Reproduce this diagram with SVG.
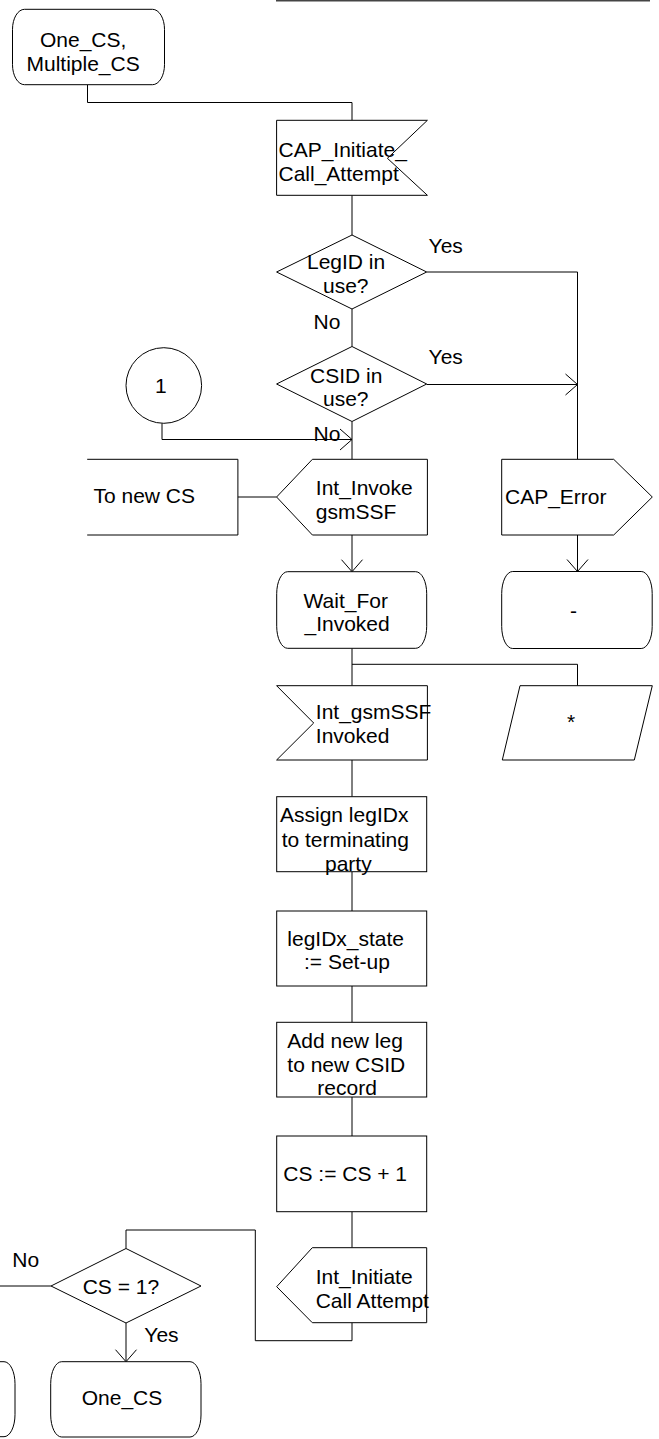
<svg xmlns="http://www.w3.org/2000/svg" width="659" height="1439" viewBox="0 0 659 1439">
<style>
.s{fill:#fff;stroke:#000;stroke-width:1}
.c{fill:none;stroke:#000;stroke-width:1}
text{font-family:"Liberation Sans",Arial,sans-serif;font-size:21px;fill:#000}
</style>
<defs>
<marker id="arr" markerUnits="userSpaceOnUse" markerWidth="16" markerHeight="24" viewBox="-13 -12 15 24" refX="0" refY="0" orient="auto" overflow="visible">
<path d="M-12,-10.5 L0,0 L-12,10.5" fill="none" stroke="#000" stroke-width="1"/>
</marker>
</defs>
<rect width="659" height="1439" fill="#fff"/>
<line x1="276" y1="0.8" x2="650" y2="0.8" stroke="#444" stroke-width="1.6"/>

<g id="connectors">
<path class="c" d="M87.5,84.7 V102.5 H352 V120.3"/>
<path class="c" d="M352,195.3 V235"/>
<path class="c" d="M352,309 V346.5"/>
<path class="c" d="M426.7,272 H577.5 V459.3"/>
<path class="c" d="M426.7,384.5 H577.5" marker-end="url(#arr)"/>
<path class="c" d="M352,421.5 V459.3"/>
<path class="c" d="M162,423.3 V439.5 H352" marker-end="url(#arr)"/>
<path class="c" d="M237.9,497 H276.6"/>
<path class="c" d="M352,535 V571.7" marker-end="url(#arr)"/>
<path class="c" d="M577.5,535 V571.5" marker-end="url(#arr)"/>
<path class="c" d="M352,648.3 V685.7"/>
<path class="c" d="M352,664.3 H577.5 V685.7"/>
<path class="c" d="M352,760 V796.7"/>
<path class="c" d="M352,871.7 V911"/>
<path class="c" d="M352,986 V1022.3"/>
<path class="c" d="M352,1097 V1136"/>
<path class="c" d="M352,1211.7 V1247.7"/>
<path class="c" d="M352,1322.7 V1340.7 H255.3 V1230 H126 V1248.5"/>
<path class="c" d="M51,1286 H0"/>
<path class="c" d="M126,1323 V1361.7" marker-end="url(#arr)"/>
</g>

<g id="state_start">
<rect class="s" x="12.5" y="9.3" width="152" height="75.4" rx="12" ry="20"/>
<text x="40" y="47">One_CS,</text>
<text x="26.5" y="70.5">Multiple_CS</text>
</g>

<g id="input_cap_initiate">
<polygon class="s" points="276.6,120.3 427.4,120.3 387.4,158.3 427.4,195.3 276.6,195.3"/>
<text x="278.5" y="157">CAP_Initiate_</text>
<text x="278.5" y="180.5">Call_Attempt</text>
</g>

<g id="decision_legid">
<polygon class="s" points="276.6,272 352,235 426.7,272 352,309"/>
<text x="307" y="269.3">LegID in</text>
<text x="323" y="292.7">use?</text>
<text x="428.6" y="253.3">Yes</text>
<text x="313.5" y="329.3">No</text>
</g>

<g id="decision_csid">
<polygon class="s" points="276.6,384 352,346.5 426.7,384 352,421.5"/>
<text x="310" y="382.7">CSID in</text>
<text x="323" y="406.2">use?</text>
<text x="428.6" y="364.3">Yes</text>
<text x="313.5" y="440.7">No</text>
</g>

<g id="connector_1">
<circle class="s" cx="163.8" cy="385.5" r="37.8"/>
<text x="155" y="392.7">1</text>
</g>

<g id="comment_to_new_cs">
<path class="c" d="M87.2,459.3 H237.9 V535 H87.2"/>
<text x="93.5" y="503.3">To new CS</text>
</g>

<g id="output_int_invoke">
<polygon class="s" points="312.4,459.3 427.4,459.3 427.4,535 312.4,535 276.6,497"/>
<text x="315.8" y="495">Int_Invoke</text>
<text x="315.8" y="518.5">gsmSSF</text>
</g>

<g id="output_cap_error">
<polygon class="s" points="501.7,459.3 613.7,459.3 652.3,497 613.7,535 501.7,535"/>
<text x="505" y="504">CAP_Error</text>
</g>

<g id="state_wait_for_invoked">
<rect class="s" x="276.7" y="571.7" width="150" height="76.6" rx="11" ry="22"/>
<text x="303.5" y="607.5">Wait_For</text>
<text x="304.5" y="631">_Invoked</text>
</g>

<g id="state_dash">
<rect class="s" x="501.7" y="571.5" width="150.5" height="77" rx="11" ry="22"/>
<text x="570" y="618">-</text>
</g>

<g id="input_int_gsmssf_invoked">
<polygon class="s" points="276.6,685.7 427.4,685.7 427.4,760 276.6,760 313.7,723"/>
<text x="315.8" y="719.3">Int_gsmSSF</text>
<text x="315.8" y="743.3">Invoked</text>
</g>

<g id="input_any">
<polygon class="s" points="520,685.7 652.3,685.7 634.3,760 502.3,760"/>
<text x="567" y="729">*</text>
</g>

<g id="task_assign">
<rect class="s" x="276.7" y="796.7" width="150" height="75"/>
<text x="280" y="821.7">Assign legIDx</text>
<text x="281.7" y="846.7">to terminating</text>
<text x="325" y="870.7">party</text>
</g>

<g id="task_state">
<rect class="s" x="276.7" y="911" width="150" height="75"/>
<text x="287.3" y="945.7">legIDx_state</text>
<text x="304" y="969.3">:= Set-up</text>
</g>

<g id="task_add_leg">
<rect class="s" x="276.7" y="1022.3" width="150" height="74.7"/>
<text x="287.3" y="1048.3">Add new leg</text>
<text x="287.3" y="1071.8">to new CSID</text>
<text x="317.3" y="1095.3">record</text>
</g>

<g id="task_cs_inc">
<rect class="s" x="276.7" y="1136" width="150" height="75.7"/>
<text x="283.3" y="1180.7">CS := CS + 1</text>
</g>

<g id="output_int_initiate">
<polygon class="s" points="312.3,1247.7 426.7,1247.7 426.7,1322.7 312.3,1322.7 276.7,1286.7"/>
<text x="315.7" y="1284">Int_Initiate</text>
<text x="315.7" y="1307.5">Call Attempt</text>
</g>

<g id="decision_cs1">
<polygon class="s" points="51,1286 126,1248.5 201,1286 126,1323"/>
<text x="82.7" y="1294">CS = 1?</text>
<text x="12.3" y="1267.3">No</text>
<text x="144.3" y="1341.7">Yes</text>
</g>

<g id="state_partial_left">
<rect class="s" x="-135" y="1361.7" width="150" height="75" rx="11" ry="22"/>
</g>

<g id="state_one_cs">
<rect class="s" x="50.7" y="1361.7" width="150.3" height="75.3" rx="11" ry="22"/>
<text x="81.7" y="1405">One_CS</text>
</g>
</svg>
